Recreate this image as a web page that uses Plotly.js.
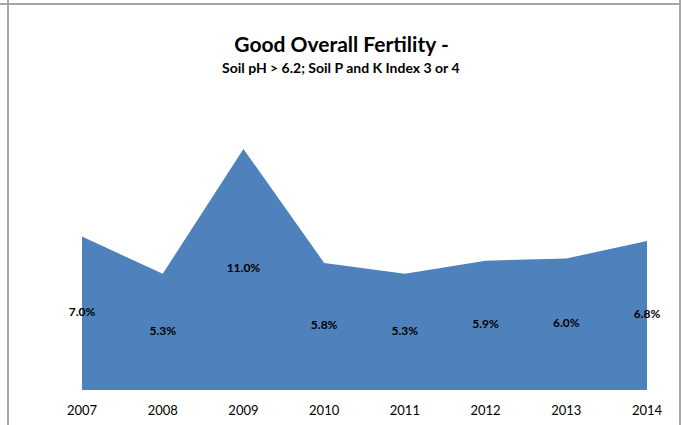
<!DOCTYPE html>
<html>
<head>
<meta charset="utf-8">
<script src="https://cdn.plot.ly/plotly-3.0.1.min.js"></script>
<style>
html,body{margin:0;padding:0;background:#fff;}
#chart{width:683px;height:425px;}
</style>
</head>
<body>
<div id="chart"></div>
<script>
const years = [2007, 2008, 2009, 2010, 2011, 2012, 2013, 2014];
const values = [7.0, 5.3, 11.0, 5.8, 5.3, 5.9, 6.0, 6.8];
const labelText = values.map(v => v.toFixed(1) + '%');
const labelY = values.map(v => v / 2);

const FONT = 'Lato, "Open Sans", sans-serif';
const L = 82, R = 647, B = 390, T = 127;
const pw = R - L, ph = B - T;
const px = x => (x - L) / pw;
const py = y => (B - y) / ph;
const border = '#a6a6a6';

const traces = [
  {
    x: years, y: values, type: 'scatter', mode: 'lines',
    fill: 'tozeroy', fillcolor: '#4f81bd',
    line: {width: 0, color: '#4f81bd'},
    hoverinfo: 'skip', showlegend: false
  },
  {
    x: years, y: labelY, type: 'scatter', mode: 'text',
    text: labelText, textposition: 'middle center',
    textfont: {family: FONT, size: 12, color: '#000', weight: 'bold'},
    cliponaxis: false, hoverinfo: 'skip', showlegend: false
  }
];

const layout = {
  width: 683, height: 425,
  margin: {l: L, r: 683 - R, t: T, b: 425 - B, pad: 0},
  paper_bgcolor: '#fff', plot_bgcolor: '#fff',
  font: {family: FONT, color: '#000'},
  title: {
    text: '<b>Good Overall Fertility -</b>',
    font: {family: FONT, size: 21, color: '#000'},
    xref: 'container', x: 0.5, xanchor: 'center',
    yref: 'container', y: 1 - 45 / 425, yanchor: 'middle'
  },
  annotations: [{
    text: '<b>Soil pH &gt; 6.2; Soil P and K Index 3 or 4</b>',
    xref: 'paper', yref: 'paper',
    x: px(341), y: py(67), xanchor: 'center', yanchor: 'middle',
    showarrow: false, font: {family: FONT, size: 14, color: '#000'}
  }],
  xaxis: {
    range: [2007, 2014], tickmode: 'array', tickvals: years,
    ticktext: years.map(String),
    showgrid: false, zeroline: false, showline: false,
    ticks: 'outside', ticklen: 8, tickcolor: 'rgba(0,0,0,0)',
    tickfont: {family: FONT, size: 13, color: '#000'},
    fixedrange: true
  },
  yaxis: {
    range: [0, 12], showgrid: false, zeroline: false, showline: false,
    showticklabels: false, ticks: '', fixedrange: true
  },
  shapes: [
    {type: 'line', xref: 'paper', yref: 'paper', x0: px(0), x1: px(681), y0: py(4), y1: py(4), line: {color: border, width: 2}},
    {type: 'line', xref: 'paper', yref: 'paper', x0: px(8), x1: px(8), y0: py(0), y1: py(425), line: {color: border, width: 2}},
    {type: 'line', xref: 'paper', yref: 'paper', x0: px(680), x1: px(680), y0: py(0), y1: py(425), line: {color: border, width: 2}}
  ]
};

Plotly.newPlot('chart', traces, layout, {displayModeBar: false, staticPlot: true});
</script>
</body>
</html>
